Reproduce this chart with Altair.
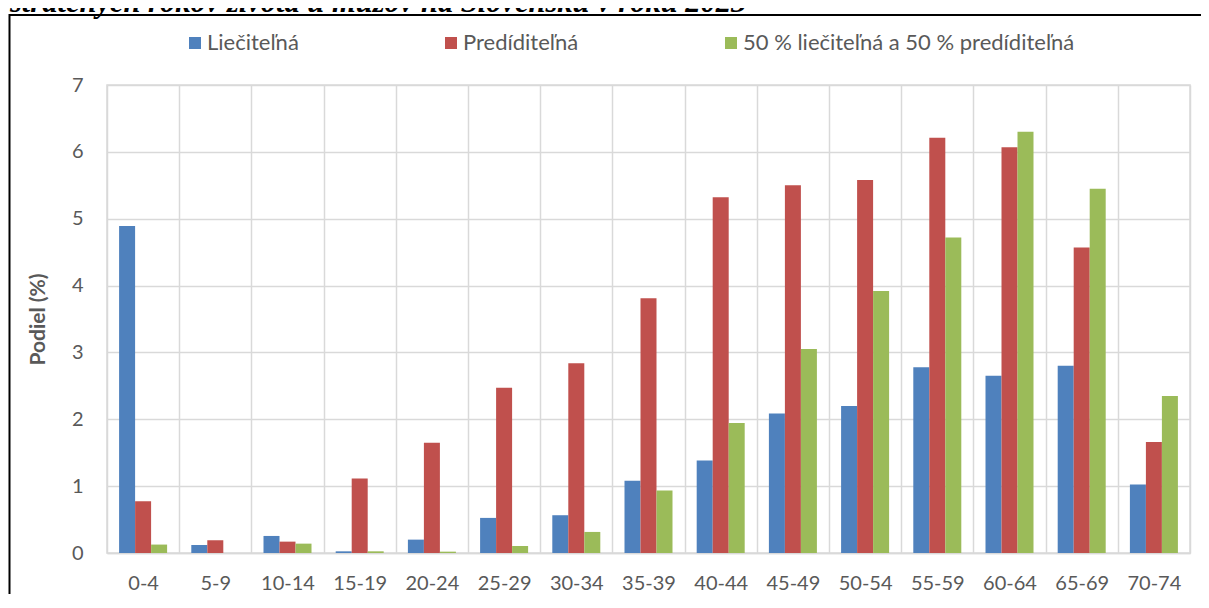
import altair as alt
import pandas as pd

# ---- data ----
age_groups = ["0-4", "5-9", "10-14", "15-19", "20-24", "25-29", "30-34", "35-39",
              "40-44", "45-49", "50-54", "55-59", "60-64", "65-69", "70-74"]
series_names = ["Liečiteľná", "Predíditeľná", "50 % liečiteľná a 50 % predíditeľná"]
liecitelna = [4.89, 0.12, 0.255, 0.025, 0.20, 0.525, 0.565, 1.08, 1.385, 2.085, 2.20, 2.78, 2.65, 2.80, 1.025]
predidi = [0.775, 0.19, 0.17, 1.115, 1.65, 2.47, 2.84, 3.81, 5.32, 5.50, 5.58, 6.21, 6.07, 4.57, 1.66]
mix = [0.126, 0.0, 0.14, 0.025, 0.02, 0.105, 0.315, 0.935, 1.945, 3.05, 3.92, 4.72, 6.30, 5.45, 2.35]
colors = ["#4f81bd", "#c0504d", "#9bbb59"]
y_ticks = [0, 1, 2, 3, 4, 5, 6, 7]
y_title = "Podiel (%)"
doc_title = "stratených rokov života u mužov na Slovensku v roku 2023"

rows = []
for name, vals in zip(series_names, [liecitelna, predidi, mix]):
    for age, v in zip(age_groups, vals):
        rows.append({"age": age, "series": name, "value": v})
df = pd.DataFrame(rows)

TXT = "#595959"
GRID = "#d9d9d9"

bars = alt.Chart(df).mark_bar().encode(
    x=alt.X("age:N", sort=age_groups,
            scale=alt.Scale(paddingInner=0, paddingOuter=0),
            axis=alt.Axis(title=None, labelAngle=0, tickBand="extent", grid=True,
                          gridColor=GRID, gridWidth=1.5, ticks=False,
                          domainColor=GRID, domainWidth=1.5, labelPadding=20,
                          labelFont="Lato", labelFontSize=20, labelColor=TXT)),
    xOffset=alt.XOffset("series:N", sort=series_names,
                        scale=alt.Scale(paddingInner=0, paddingOuter=0.756)),
    y=alt.Y("value:Q", scale=alt.Scale(domain=[0, 7], nice=False),
            axis=alt.Axis(values=y_ticks, title=y_title, titleFont="Lato",
                          titleFontSize=21, titleFontWeight="bold", titleColor=TXT,
                          titleX=-69, titleY=234, titleAngle=270, titleAlign="center",
                          titleBaseline="middle",
                          labelFont="Lato", labelFontSize=20, labelColor=TXT,
                          labelPadding=24, ticks=False, domain=False, grid=True,
                          gridColor=GRID, gridWidth=1.5)),
    color=alt.Color("series:N", sort=series_names,
                    scale=alt.Scale(domain=series_names, range=colors),
                    legend=alt.Legend(title=None, orient="none", legendX=77, legendY=-53,
                                      direction="horizontal", symbolType="square",
                                      symbolSize=144, symbolStrokeWidth=0, symbolOpacity=1,
                                      labelFont="Lato", labelFontSize=22, labelColor=TXT,
                                      labelLimit=600, columnPadding=141, labelOffset=1)),
)

one = pd.DataFrame({"k": [0]})
border = alt.Chart(one).mark_rect(fillOpacity=0, stroke="black", strokeWidth=2).encode(
    x=alt.value(-97.5), x2=alt.value(1200), y=alt.value(-70), y2=alt.value(700)
)
title_txt = alt.Chart(one).mark_text(
    text=doc_title, font="Liberation Serif", fontSize=30.5, fontStyle="italic",
    fontWeight="bold", color="black", align="left", baseline="alphabetic"
).encode(x=alt.value(-97), y=alt.value(-73))

chart = alt.layer(border, title_txt, bars).properties(
    width=1083, height=468,
    autosize=alt.AutoSizeParams(type="none"),
    padding={"left": 99, "top": 77, "right": 11, "bottom": 41},
).configure_view(stroke=GRID, strokeWidth=1.5)

chart.save("out.html", embed_options={"renderer": "svg", "actions": False})
